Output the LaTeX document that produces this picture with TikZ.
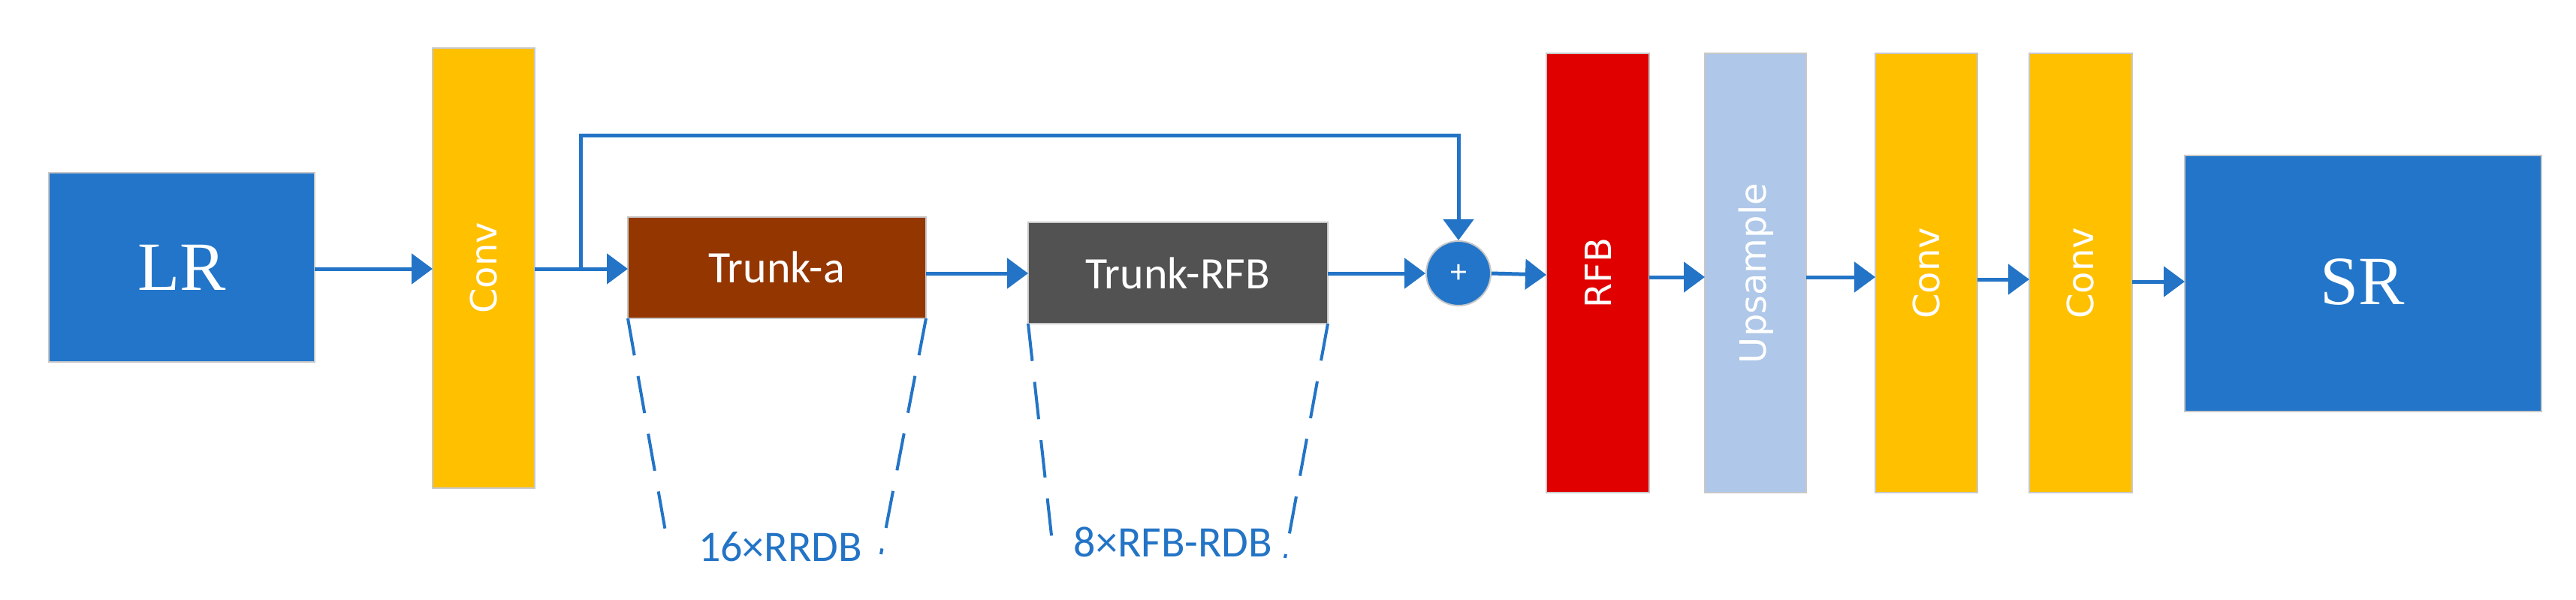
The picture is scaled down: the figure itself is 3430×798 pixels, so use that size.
\documentclass[tikz,border=0pt]{standalone}
\usepackage{fontspec}
\setmainfont{Carlito}
\newfontfamily\dv{DejaVu Sans}
\newfontfamily\tms{Liberation Serif}
\usetikzlibrary{arrows.meta}
\definecolor{myblue}{HTML}{2374C6}
\definecolor{boxblue}{HTML}{2275C8}
\definecolor{cgold}{HTML}{FFC000}
\definecolor{cbrown}{HTML}{943600}
\definecolor{cgray}{HTML}{525252}
\definecolor{cred}{HTML}{E00000}
\definecolor{clight}{HTML}{AFC7E8}
\definecolor{bord}{HTML}{C8C8C8}
\tikzset{
  blk/.style={draw=bord,line width=2pt,inner sep=0pt,text=white},
  vtxt/.style={font=\dv\fontsize{48}{50}\selectfont,rotate=90,text=white},
  arr/.style={draw=myblue,line width=5pt,-{Triangle[length=28pt,width=40pt]}},
  dsh/.style={draw=myblue,line width=4pt,dash pattern=on 50pt off 28pt},
  lbl/.style={text=myblue,font=\fontsize{58}{60}\selectfont}
}
\begin{document}
\begin{tikzpicture}[x=1pt,y=-1pt]
\useasboundingbox (0,0) rectangle (3430,798);
% boxes
\fill[boxblue,draw=bord,line width=2pt] (65,230) rectangle (419,482);
\node[text=white,font=\tms\fontsize{92}{94}\selectfont] (lr) at (242,356) {LR};
\coordinate (lrE) at (419,358);
\fill[cgold,draw=bord,line width=2pt] (576,64) rectangle (712,650);
\node[vtxt] (conv1) at (644,357) {Conv};
\coordinate (c1W) at (576,358); \coordinate (c1E) at (712,358);
\fill[cbrown,draw=bord,line width=2pt] (836,289) rectangle (1233,424);
\node[text=white,font=\fontsize{60}{62}\selectfont] (ta) at (1034,356) {Trunk-a};
\coordinate (taW) at (836,358); \coordinate (taE) at (1233,364);
\fill[cgray,draw=bord,line width=2pt] (1369,296) rectangle (1768,431);
\node[text=white,font=\fontsize{60}{62}\selectfont] (tr) at (1568,364) {Trunk-RFB};
\coordinate (trW) at (1369,364); \coordinate (trE) at (1768,364);
\node[circle,fill=boxblue,draw=bord,line width=2pt,minimum size=86pt,inner sep=0pt,text=white,font=\fontsize{44}{44}\selectfont] (plus) at (1942,364) {+};
\fill[cred,draw=bord,line width=2pt] (2059,71) rectangle (2196,656);
\node[vtxt] (rfb) at (2128,364) {RFB};
\fill[clight,draw=bord,line width=2pt] (2270,71) rectangle (2405,656);
\node[vtxt] (up) at (2338,364) {Upsample};
\fill[cgold,draw=bord,line width=2pt] (2497,71) rectangle (2633,656);
\node[vtxt] (conv2) at (2565,364) {Conv};
\fill[cgold,draw=bord,line width=2pt] (2702,71) rectangle (2839,656);
\node[vtxt] (conv3) at (2770,364) {Conv};
\fill[boxblue,draw=bord,line width=2pt] (2909,207) rectangle (3384,548);
\node[text=white,font=\tms\fontsize{92}{94}\selectfont] (sr) at (3146,375) {SR};
% arrows
\draw[arr] (lrE) -- (c1W);
\draw[arr] (c1E) -- (taW);
\draw[arr] (taE) -- (trW);
\draw[arr] (trE) -- (plus.west);
\draw[arr] (773,358) -- (773,180) -- (1942,180) -- (plus.north);
\draw[arr] (plus.east) -- (2059,366);
\draw[arr] (2196,369) -- (2270,369);
\draw[arr] (2405,369) -- (2497,369);
\draw[arr] (2633,372) -- (2702,372);
\draw[arr] (2839,375) -- (2909,375);
% dashed
\draw[dsh] (836,424) -- (890,730);
\draw[dsh] (1233,424) -- (1173,738);
\draw[dsh] (1369,431) -- (1403,740);
\draw[dsh] (1768,431) -- (1711,743);
\node[lbl] (l1) at (1039,728) {16×RRDB};
\node[lbl] (l2) at (1562,722) {8×RFB-RDB};
\end{tikzpicture}
\end{document}
